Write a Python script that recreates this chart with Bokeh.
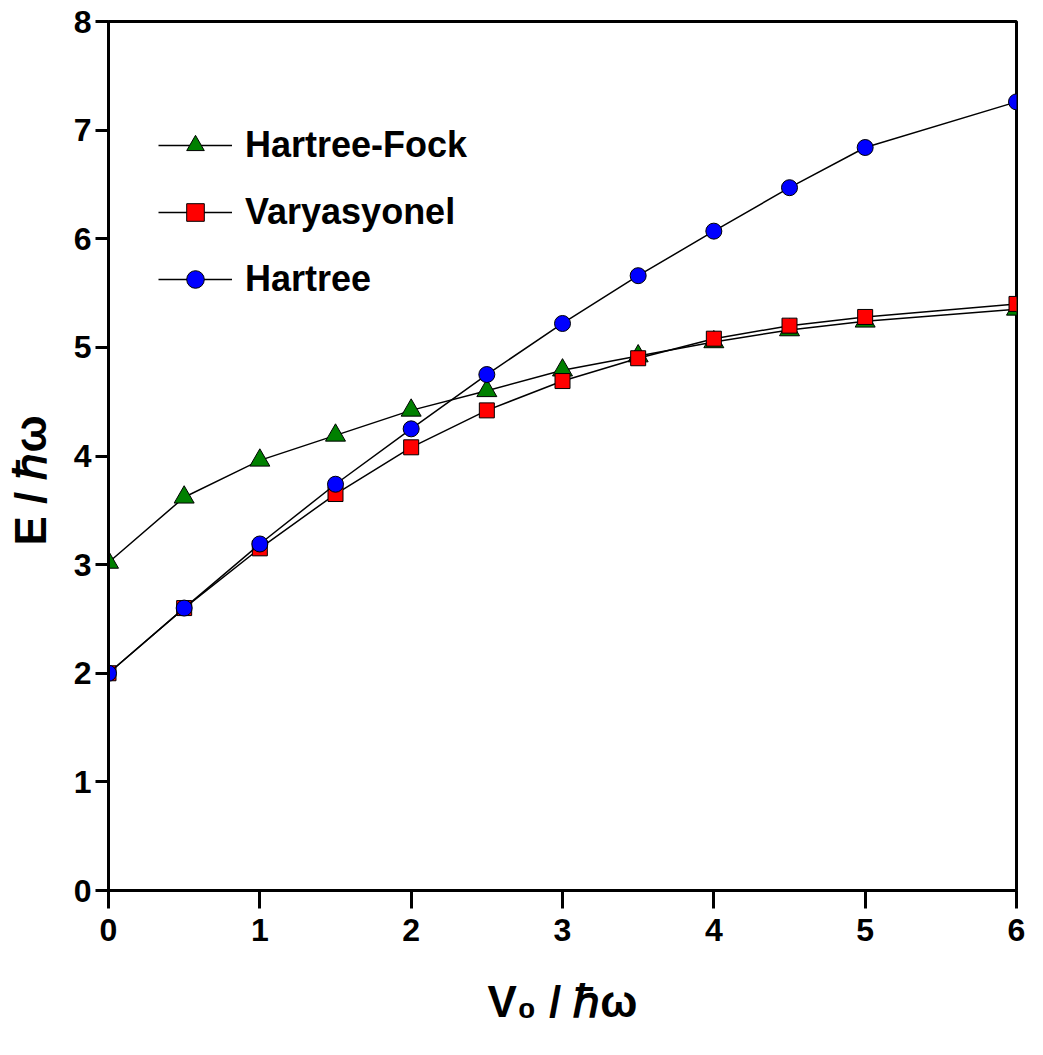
from bokeh.plotting import figure
from bokeh.models import Range1d, FixedTicker, Legend, LegendItem
from bokeh.embed import file_html
from bokeh.resources import INLINE

# ---- data ----
v0 = [0, 0.5, 1, 1.5, 2, 2.5, 3, 3.5, 4, 4.5, 5, 6]
hartree_fock = [3.02, 3.62, 3.96, 4.19, 4.42, 4.60, 4.79, 4.92, 5.05, 5.16, 5.24, 5.35]
varyasyonel = [2.00, 2.60, 3.15, 3.65, 4.08, 4.42, 4.69, 4.90, 5.08, 5.20, 5.28, 5.40]
hartree = [2.00, 2.60, 3.19, 3.74, 4.25, 4.75, 5.22, 5.66, 6.07, 6.47, 6.84, 7.26]
x_ticks = [0, 1, 2, 3, 4, 5, 6]
y_ticks = [0, 1, 2, 3, 4, 5, 6, 7, 8]
x_label = "V\u2080 / \u210f\u03c9"
y_label = "E / \u210f\u03c9" + "\u00a0" * 4

FONT = "Liberation Sans"

p = figure(width=1043, height=1055, output_backend="svg", toolbar_location=None,
           x_range=Range1d(0, 6), y_range=Range1d(0, 8),
           min_border_left=108, min_border_right=27, min_border_top=21, min_border_bottom=165)
p.grid.visible = False
p.outline_line_color = "black"
p.outline_line_width = 3
p.background_fill_color = "white"
p.border_fill_color = "white"

for ax, ticks, tout in ((p.xaxis[0], x_ticks, 18), (p.yaxis[0], y_ticks, 13)):
    ax.ticker = FixedTicker(ticks=ticks)
    ax.axis_line_width = 3
    ax.axis_line_color = "black"
    ax.major_tick_line_width = 3
    ax.major_tick_out = tout
    ax.major_tick_in = 0
    ax.minor_tick_line_color = None
    ax.major_label_text_font = FONT
    ax.major_label_text_font_style = "bold"
    ax.major_label_text_font_size = "32px"
    ax.major_label_text_color = "black"
    ax.axis_label_text_font = FONT
    ax.axis_label_text_font_style = "bold"
    ax.axis_label_text_font_size = "44px"
    ax.axis_label_text_color = "black"
p.xaxis.major_label_standoff = 10
p.yaxis.major_label_standoff = 4
p.xaxis.axis_label = x_label
p.yaxis.axis_label = y_label
p.xaxis.axis_label_standoff = 33
p.yaxis.axis_label_standoff = 16

series = [
    ("Hartree-Fock", hartree_fock, "triangle", "green", 20),
    ("Varyasyonel", varyasyonel, "square", "red", 15),
    ("Hartree", hartree, "circle", "blue", 16),
]
items = []
for name, ys, mk, col, sz in series:
    lr = p.line(v0, ys, line_color="black", line_width=1.5)
    sr = p.scatter(v0, ys, marker=mk, size=sz, fill_color=col, line_color="black", line_width=1)
    items.append(LegendItem(label=name, renderers=[lr, sr]))

legend = Legend(items=items, location=(50, 589), orientation="vertical",
                glyph_width=74, glyph_height=44, label_height=44, spacing=23,
                padding=0, margin=0, label_standoff=13,
                border_line_color=None, background_fill_alpha=0,
                label_text_font=FONT, label_text_font_style="bold",
                label_text_font_size="36px", label_text_color="black")
p.add_layout(legend)

open("out.html", "w").write(file_html(p, INLINE))
